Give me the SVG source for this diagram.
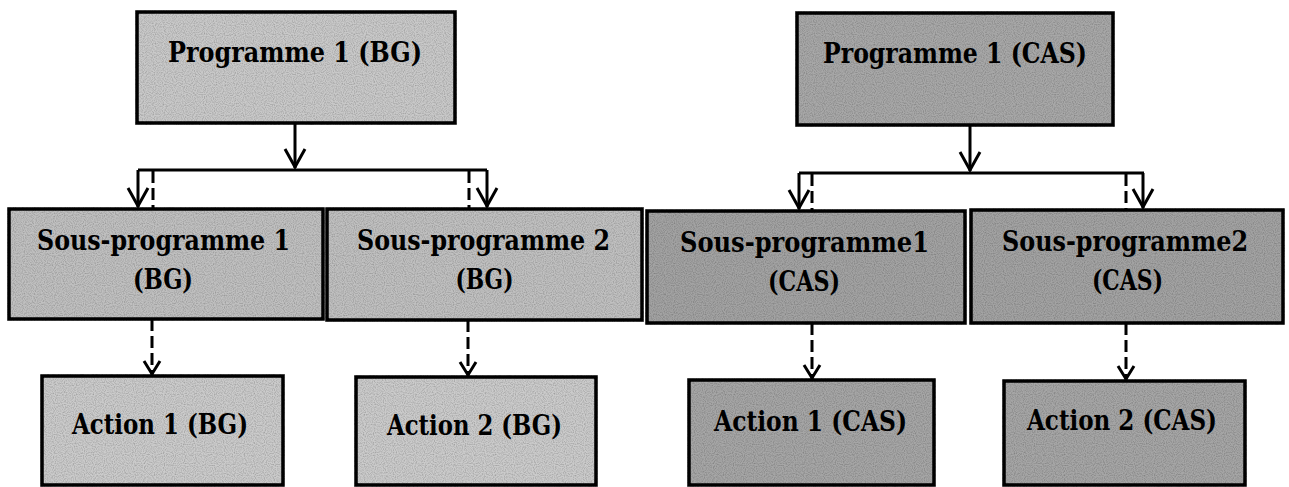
<svg xmlns="http://www.w3.org/2000/svg" width="1289" height="487" viewBox="0 0 1289 487">
  <style>
    .box { stroke: #000; stroke-width: 3.5; filter: url(#grain); }
    .bg1 { fill: #c9c9c9; }
    .bg2 { fill: #c0c0c0; }
    .bg3 { fill: #cbcbcb; }
    .cas1 { fill: #a8a8a8; }
    .cas2 { fill: #a3a3a3; }
    .cas3 { fill: #a6a6a6; }
    .lbl { font-family: "DejaVu Serif Condensed", "DejaVu Serif", "Liberation Serif", serif; font-weight: bold; font-size: 28px; fill: #000; text-anchor: middle; }
    .solid { fill: none; stroke: #000; stroke-width: 3; }
    .dash { fill: none; stroke: #000; stroke-width: 3; stroke-dasharray: 12 5; }
  </style>
  <defs>
    <filter id="grain" x="-3%" y="-5%" width="106%" height="110%">
      <feTurbulence type="fractalNoise" baseFrequency="0.9" numOctaves="1" seed="3" result="n"/>
      <feColorMatrix in="n" type="matrix" values="0 0 0 0 0  0 0 0 0 0  0 0 0 0 0  0 0 0 0.9 -0.35" result="dots"/>
      <feComposite in="dots" in2="SourceGraphic" operator="in" result="dotsIn"/>
      <feMerge>
        <feMergeNode in="SourceGraphic"/>
        <feMergeNode in="dotsIn"/>
      </feMerge>
    </filter>
    <marker id="arrS" markerUnits="userSpaceOnUse" viewBox="-22 -12 24 24" markerWidth="24" markerHeight="24" refX="0" refY="0" orient="auto">
      <path d="M-19,-10 L-1,0 L-19,10" fill="none" stroke="#000" stroke-width="3" stroke-dasharray="none"/>
    </marker>
    <marker id="arrD" markerUnits="userSpaceOnUse" viewBox="-18 -10 20 20" markerWidth="20" markerHeight="20" refX="0" refY="0" orient="auto">
      <path d="M-14,-8 L-1,0 L-14,8" fill="none" stroke="#000" stroke-width="3" stroke-dasharray="none"/>
    </marker>
  </defs>

  <g id="connectors">
    <!-- BG tree -->
    <path class="solid" d="M295,123 V168" marker-end="url(#arrS)"/>
    <path class="solid" d="M138,170 H487"/>
    <path class="solid" d="M138,170 V207" marker-end="url(#arrS)"/>
    <path class="solid" d="M487,170 V207" marker-end="url(#arrS)"/>
    <path class="dash" d="M153,171 V208"/>
    <path class="dash" d="M469,171 V208"/>
    <path class="dash" d="M152,319 V375" marker-end="url(#arrD)"/>
    <path class="dash" d="M468,320 V376" marker-end="url(#arrD)"/>
    <!-- CAS tree -->
    <path class="solid" d="M970,125 V171" marker-end="url(#arrS)"/>
    <path class="solid" d="M799,173 H1144"/>
    <path class="solid" d="M799,173 V209" marker-end="url(#arrS)"/>
    <path class="solid" d="M1143,173 V208" marker-end="url(#arrS)"/>
    <path class="dash" d="M812,174 V210"/>
    <path class="dash" d="M1126,174 V209"/>
    <path class="dash" d="M812,323 V379" marker-end="url(#arrD)"/>
    <path class="dash" d="M1126,323 V380" marker-end="url(#arrD)"/>
  </g>

  <g id="prog1-bg">
    <rect class="box bg1" x="137" y="12" width="318" height="111"/>
    <text class="lbl" x="295" y="62" textLength="254" lengthAdjust="spacingAndGlyphs">Programme 1 (BG)</text>
  </g>
  <g id="sousprog1-bg">
    <rect class="box bg2" x="9" y="209" width="314" height="110"/>
    <text class="lbl" x="163.5" y="250" textLength="253" lengthAdjust="spacingAndGlyphs">Sous-programme 1</text>
    <text class="lbl" x="163" y="289" textLength="60" lengthAdjust="spacingAndGlyphs">(BG)</text>
  </g>
  <g id="sousprog2-bg">
    <rect class="box bg2" x="327" y="209" width="315" height="111"/>
    <text class="lbl" x="483.5" y="250" textLength="253" lengthAdjust="spacingAndGlyphs">Sous-programme 2</text>
    <text class="lbl" x="484.5" y="289" textLength="58" lengthAdjust="spacingAndGlyphs">(BG)</text>
  </g>
  <g id="action1-bg">
    <rect class="box bg3" x="42" y="376" width="241" height="109"/>
    <text class="lbl" x="160" y="434" textLength="176" lengthAdjust="spacingAndGlyphs">Action 1 (BG)</text>
  </g>
  <g id="action2-bg">
    <rect class="box bg3" x="356" y="377" width="240" height="108"/>
    <text class="lbl" x="474.5" y="435" textLength="175" lengthAdjust="spacingAndGlyphs">Action 2 (BG)</text>
  </g>

  <g id="prog1-cas">
    <rect class="box cas1" x="797" y="13" width="316" height="112"/>
    <text class="lbl" x="955" y="63" textLength="264" lengthAdjust="spacingAndGlyphs">Programme 1 (CAS)</text>
  </g>
  <g id="sousprog1-cas">
    <rect class="box cas2" x="647" y="211" width="318" height="112"/>
    <text class="lbl" x="804.5" y="252" textLength="249" lengthAdjust="spacingAndGlyphs">Sous-programme1</text>
    <text class="lbl" x="804" y="291" textLength="72" lengthAdjust="spacingAndGlyphs">(CAS)</text>
  </g>
  <g id="sousprog2-cas">
    <rect class="box cas2" x="971" y="210" width="312" height="113"/>
    <text class="lbl" x="1125" y="251" textLength="246" lengthAdjust="spacingAndGlyphs">Sous-programme2</text>
    <text class="lbl" x="1127.5" y="290" textLength="71" lengthAdjust="spacingAndGlyphs">(CAS)</text>
  </g>
  <g id="action1-cas">
    <rect class="box cas3" x="689" y="380" width="245" height="105"/>
    <text class="lbl" x="810.5" y="431" textLength="193" lengthAdjust="spacingAndGlyphs">Action 1 (CAS)</text>
  </g>
  <g id="action2-cas">
    <rect class="box cas3" x="1004" y="381" width="241" height="104"/>
    <text class="lbl" x="1122" y="430" textLength="190" lengthAdjust="spacingAndGlyphs">Action 2 (CAS)</text>
  </g>
</svg>
